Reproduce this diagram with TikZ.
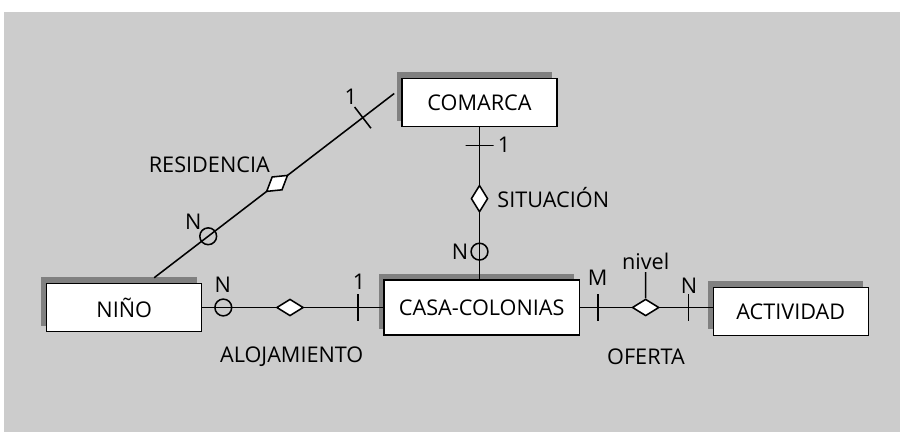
\documentclass[tikz,border=0pt]{standalone}
\usepackage{fontspec}
\setmainfont{Open Sans}
\usetikzlibrary{calc,positioning,shapes.geometric,shadows}
\definecolor{fondo}{RGB}{204,204,204}
\definecolor{sombra}{RGB}{128,128,128}

\begin{document}
\begin{tikzpicture}[x=0.025cm,y=-0.025cm,line width=1.1pt,font=\fontsize{15.4}{18}\selectfont,
  entidad/.style={draw,fill=white,minimum width=3.875cm,minimum height=1.2cm,inner sep=0pt,
    drop shadow={shadow xshift=-0.13cm,shadow yshift=0.15cm,fill=sombra,opacity=1}},
  relacion/.style={diamond,draw,fill=white,inner sep=0pt,minimum width=0.67cm,minimum height=0.42cm},
  relacionv/.style={relacion,minimum width=0.42cm,minimum height=0.67cm},
  barra/.style={draw,inner sep=0pt,minimum width=0pt,minimum height=0.67cm},
  barrah/.style={draw,inner sep=0pt,minimum width=0.7cm,minimum height=0pt},
  circulo/.style={circle,draw,inner sep=0pt,minimum size=0.42cm},
  lbl/.style={inner sep=1pt}]
  \useasboundingbox (0,0) rectangle (900,432);
  \fill[fondo] (4,12) rectangle (900,432);
  % entidades
  \node[entidad] (comarca) at (479.5,102.5) {COMARCA};
  \node[entidad] (nino) at (124.2,307.5) {NIÑO};
  \node[entidad,minimum width=4.88cm,minimum height=1.38cm] (casa) at (481.7,307.5) {CASA-COLONIAS};
  \node[entidad] (activ) at (790.8,311.3) {ACTIVIDAD};
  % residencia
  \coordinate (resA) at ($(nino.north)+(30,-5)$);
  \coordinate (resB) at ($(comarca.west)+(-7,-9)$);
  \draw (resA) -- node[circulo,pos=0.225] (resN) {} node[relacion,sloped,pos=0.512] (resid) {}
    node[barra,sloped,pos=0.869] (res1) {} (resB);
  \node[lbl] (resNt) at (193.3,222) {N};
  \node[lbl] (res1t) at (350.7,97) {1};
  \node[lbl] (residt) at (209.3,165) {RESIDENCIA};
  % situacion
  \draw (comarca.south) -- node[barrah,pos=0.121] (sit1) {} node[relacionv,pos=0.47] (sit) {}
    node[circulo,pos=0.819] (sitN) {} (comarca.south |- casa.north);
  \node[lbl] (sit1t) at (504,145) {1};
  \node[lbl] (sitNt) at (460,251.7) {N};
  \node[lbl,anchor=west] (sitt) at (495.3,198) {SITUACIÓN};
  % alojamiento
  \draw (nino.east) -- node[circulo,pos=0.115] (aloN) {} node[relacion,pos=0.484] (aloj) {}
    node[barra,pos=0.859] (alo1) {} (casa.west);
  \node[lbl] (aloNt) at (222.7,285) {N};
  \node[lbl] (alo1t) at (359,281.7) {1};
  \node[lbl] (alojt) at (291.7,356.7) {ALOJAMIENTO};
  % oferta
  \draw (casa.east) -- node[barra,pos=0.137] (ofM) {} node[relacion,pos=0.495] (oferta) {}
    node[barra,pos=0.819] (ofN) {} (casa.east -| activ.west);
  \node[lbl] (nivel) at (645.7,261.7) {nivel};
  \draw (oferta.north) -- (nivel.south);
  \node[lbl] (ofMt) at (597.7,278) {M};
  \node[lbl] (ofNt) at (689,286) {N};
  \node[lbl] (ofertat) at (646,356.7) {OFERTA};
\end{tikzpicture}
\end{document}
